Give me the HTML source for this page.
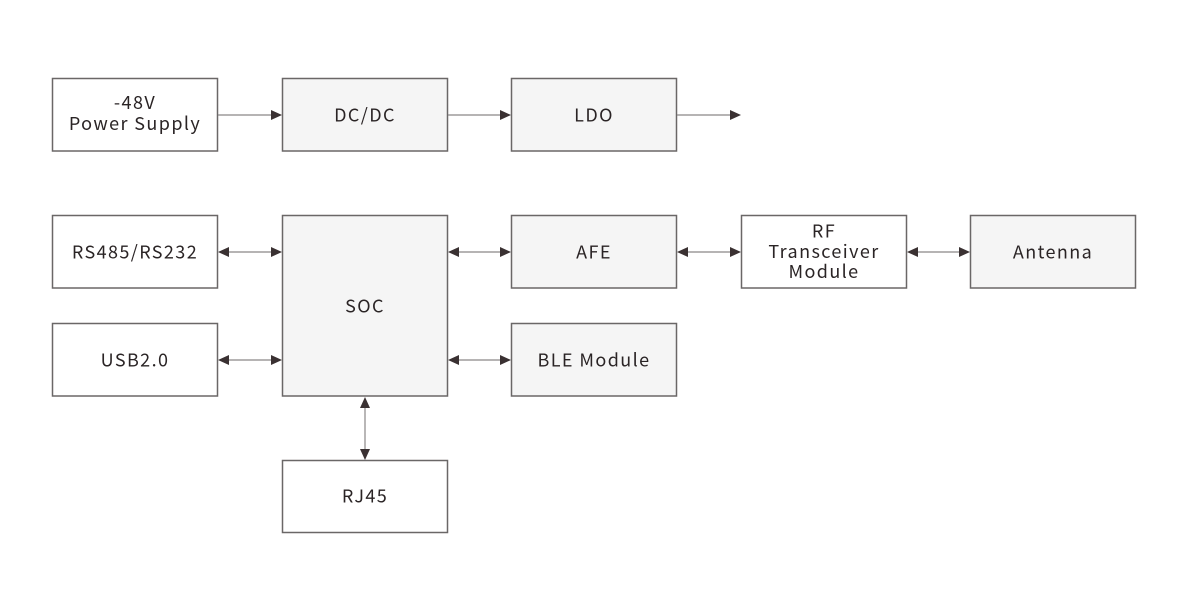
<!DOCTYPE html>
<html><head><meta charset="utf-8"><style>
html,body{margin:0;padding:0;background:#fff;}
svg{display:block;}
text{font-family:"Noto Sans CJK SC","Liberation Sans",sans-serif;font-size:18px;fill:#2a2425;letter-spacing:1.4px;text-anchor:middle;}
.b{stroke:#6a6767;stroke-width:1.5;}
.w{fill:#ffffff;}
.g{fill:#f5f5f5;}
.l{stroke:#8a8787;stroke-width:1.2;fill:none;}
.a{fill:#3a3132;}
</style></head><body>
<svg width="1200" height="604" viewBox="0 0 1200 604" xmlns="http://www.w3.org/2000/svg">
<!-- boxes -->
<rect class="b w" x="52.5" y="78.5" width="165" height="72.5"/>
<rect class="b g" x="282.5" y="78.5" width="165" height="72.5"/>
<rect class="b g" x="511.5" y="78.5" width="165" height="72.5"/>

<rect class="b w" x="52.5" y="215.5" width="165" height="72.5"/>
<rect class="b g" x="282.5" y="215.5" width="165" height="180.5"/>
<rect class="b g" x="511.5" y="215.5" width="165" height="72.5"/>
<rect class="b w" x="741.5" y="215.5" width="165" height="72.5"/>
<rect class="b g" x="970.5" y="215.5" width="165" height="72.5"/>

<rect class="b w" x="52.5" y="323.5" width="165" height="72.5"/>
<rect class="b g" x="511.5" y="323.5" width="165" height="72.5"/>

<rect class="b w" x="282.5" y="460.5" width="165" height="72"/>

<!-- connectors -->
<line class="l" x1="218" y1="115" x2="272" y2="115"/>
<polygon class="a" points="282,115 271,110 271,120"/>
<line class="l" x1="448" y1="115" x2="502" y2="115"/>
<polygon class="a" points="511,115 500,110 500,120"/>
<line class="l" x1="677" y1="115" x2="731" y2="115"/>
<polygon class="a" points="741,115 730,110 730,120"/>

<!-- bidirectional horizontal -->
<g>
<line class="l" x1="226" y1="252" x2="273" y2="252"/>
<polygon class="a" points="218,252 229,247 229,257"/>
<polygon class="a" points="282,252 271,247 271,257"/>

<line class="l" x1="226" y1="360" x2="273" y2="360"/>
<polygon class="a" points="218,360 229,355 229,365"/>
<polygon class="a" points="282,360 271,355 271,365"/>

<line class="l" x1="456" y1="252" x2="502" y2="252"/>
<polygon class="a" points="448,252 459,247 459,257"/>
<polygon class="a" points="511,252 500,247 500,257"/>

<line class="l" x1="456" y1="360" x2="502" y2="360"/>
<polygon class="a" points="448,360 459,355 459,365"/>
<polygon class="a" points="511,360 500,355 500,365"/>

<line class="l" x1="685" y1="252" x2="732" y2="252"/>
<polygon class="a" points="677,252 688,247 688,257"/>
<polygon class="a" points="741,252 730,247 730,257"/>

<line class="l" x1="915" y1="252" x2="961" y2="252"/>
<polygon class="a" points="907,252 918,247 918,257"/>
<polygon class="a" points="970,252 959,247 959,257"/>

<line class="l" x1="365" y1="405" x2="365" y2="451"/>
<polygon class="a" points="365,397 360,408 370,408"/>
<polygon class="a" points="365,460 360,449 370,449"/>
</g>

<!-- labels -->
<text x="135" y="109">-48V</text>
<text x="135" y="130">Power Supply</text>
<text x="365" y="121.5">DC/DC</text>
<text x="594" y="121.5">LDO</text>

<text x="135" y="258.5">RS485/RS232</text>
<text x="365" y="312.5">SOC</text>
<text x="594" y="258.5">AFE</text>
<text x="824" y="237.5">RF</text>
<text x="824" y="258">Transceiver</text>
<text x="824" y="278">Module</text>
<text x="1053" y="258.5">Antenna</text>

<text x="135" y="366.5">USB2.0</text>
<text x="594" y="366.5">BLE Module</text>

<text x="365" y="502.5">RJ45</text>
</svg>
</body></html>
